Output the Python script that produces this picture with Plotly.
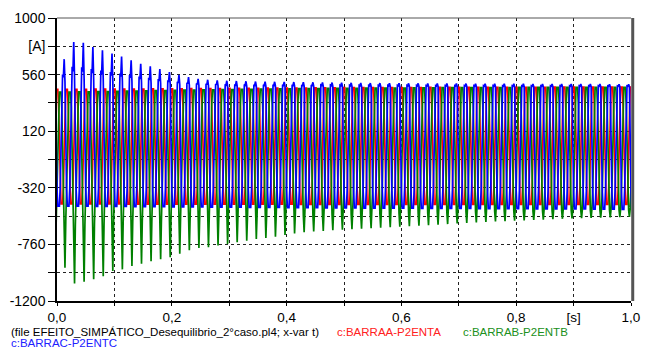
import plotly.graph_objects as go

# ---------------- data ----------------
FREQ = 60.0  # Hz
# one-cycle waveform template (12 samples, 30 deg apart), flat-topped shape
cycle_template = [0, 0.71, 1, 1, 1, 0.71, 0, -0.71, -1, -1, -1, -0.71]

# phase A (red) : per-cycle top / bottom [A]
red_top = [446, 446, 446, 446, 447, 447, 447, 448, 448, 448, 449, 449, 450, 450, 451, 451,
           452, 452, 453, 453, 454, 454, 455, 455, 456, 456, 456, 457, 457, 457, 458, 458,
           458, 458, 459, 459, 459, 459, 459, 460, 460, 460, 460, 460, 460, 461, 461, 461,
           461, 461, 461, 461, 462, 462, 462, 462, 462, 462, 462, 462, 462]
red_bot = [-446, -446, -446, -446, -446, -446, -446, -447, -447, -447, -447, -447, -447, -447, -447, -448,
           -448, -448, -448, -448, -448, -448, -448, -448, -448, -449, -449, -449, -449, -449, -449, -449,
           -449, -449, -449, -449, -449, -449, -450, -450, -450, -450, -450, -450, -450, -450, -450, -450,
           -450, -450, -450, -450, -450, -450, -450, -450, -450, -450, -450, -450, -450]

# phase B (green) : per-cycle top and negative inrush trough [A]
green_top = [423, 424, 425, 426, 427, 428, 430, 431, 432, 434, 435, 436, 438, 439, 440, 441,
             442, 443, 444, 445, 446, 447, 448, 449, 450, 451, 452, 452, 453, 453, 454, 454,
             455, 455, 456, 456, 456, 457, 457, 457, 458, 458, 458, 458, 459, 459, 459, 459,
             460, 460, 460, 460, 460, 460, 460, 460, 460, 460, 460, 460, 460]
green_trough = [-941, -1064, -1051, -1031, -1008, -967, -954, -928, -910, -890, -875, -859, -833,
                -805, -787, -782, -769, -756, -744, -731, -718, -710, -700, -687, -675, -665,
                -660, -655, -650, -646, -642, -638, -634, -630, -626, -622, -618, -614, -610,
                -606, -602, -598, -594, -590, -586, -582, -579, -576, -573, -570, -567, -564,
                -561, -558, -556, -554, -552, -550, -548, -546, -545]
green_base_bot = -462

# phase C (blue) : per-cycle positive inrush peak and bottom [A]
blue_peak = [600, 680, 813, 808, 775, 750, 723, 700, 672, 645, 625, 603, 580, 558, 540, 527,
             520, 515, 512, 510, 508, 506, 505, 504, 503, 502, 501, 500, 499, 498, 497, 496,
             495, 494, 494, 493, 493, 492, 492, 491, 491, 490, 490, 490, 489, 489, 489, 488,
             488, 488, 487, 487, 487, 487, 486, 486, 486, 486, 485, 485, 485]
blue_bot = [-462, -462, -463, -463, -464, -464, -465, -465, -466, -466, -467, -467, -468, -468, -469, -469,
            -470, -470, -471, -471, -472, -472, -473, -473, -474, -474, -475, -475, -476, -476, -477, -477,
            -478, -478, -478, -479, -479, -479, -480, -480, -480, -481, -481, -481, -482, -482, -482, -483,
            -483, -483, -484, -484, -484, -485, -485, -485, -486, -486, -486, -487, -487]
blue_base_top = 462

# phase angles at t = 0 [deg]
phase_red, phase_green, phase_blue = 90, -30, 210

x_tickvals = [0, 0.2, 0.4, 0.6, 0.8, 0.9, 1.0]
x_ticktext = ["0,0", "0,2", "0,4", "0,6", "0,8", "[s]", "1,0"]
y_tickvals = [-1200, -760, -320, 120, 560, 780, 1000]
y_ticktext = ["-1200", "-760", "-320", "120", "560", "[A]", "1000"]

footer_file = "(file EFEITO_SIMPÁTICO_Desequilibrio_2°caso.pl4; x-var t)"
name_a, name_b, name_c = "c:BARRAA-P2ENTA", "c:BARRAB-P2ENTB", "c:BARRAC-P2ENTC"


# ---------------- build sampled waveforms ----------------
def red_val(k, j):
    v = cycle_template[j]
    return v * red_top[k] if v >= 0 else -v * red_bot[k]


def green_val(k, j):
    v = cycle_template[j]
    if v >= 0:
        return v * green_top[k]
    tr = green_trough[k]
    b = green_base_bot
    if j == 8:
        return b + 0.35 * (tr - b)
    if j == 9:
        return tr
    if j == 10:
        return b + 0.25 * (tr - b)
    return -v * b


def blue_val(k, j):
    v = cycle_template[j]
    if v < 0:
        return -v * blue_bot[k]
    p = blue_peak[k]
    b = blue_base_top
    if j == 2:
        return b + 0.45 * (p - b)
    if j == 3:
        return b + 0.35 * (p - b)
    if j == 4:
        return p
    if j == 5:
        return b + 0.2 * (p - b)
    return v * b


# sample angle = 360*f*t + phase  ->  t = (angle - phase)/(360 f)
def build(phase_deg, fn):
    xs, ys = [], []
    for k in range(-1, 62):
        kk = min(max(k, 0), 60)
        for j in range(12):
            ang = 360 * k + 30 * j
            t = (ang - phase_deg) / (360 * FREQ)
            if -0.02 <= t <= 1.02:
                xs.append(t)
                ys.append(fn(kk, j))
    return xs, ys


xr, yr = build(phase_red, red_val)
xg, yg = build(phase_green, green_val)
xb, yb = build(phase_blue, blue_val)

fig = go.Figure()
fig.add_trace(go.Scatter(x=xr, y=yr, mode="lines", line=dict(color="#ff0000", width=1.7), name=name_a))
fig.add_trace(go.Scatter(x=xg, y=yg, mode="lines", line=dict(color="#008000", width=1.7), name=name_b))
fig.add_trace(go.Scatter(x=xb, y=yb, mode="lines", line=dict(color="#0000ff", width=1.7), name=name_c))

FONT = "Liberation Sans, Arial, sans-serif"
GRID = "#222222"

fig.update_layout(
    width=650, height=349,
    margin=dict(l=54, r=10, t=15, b=48),
    paper_bgcolor="white", plot_bgcolor="white",
    showlegend=False,
    font=dict(family=FONT, size=14, color="black"),
    xaxis=dict(
        range=[0, 1], tickvals=x_tickvals, ticktext=x_ticktext,
        showline=True, linecolor="black", linewidth=1.5,
        ticks="outside", ticklen=3, tickcolor="black", tickwidth=1,
        showgrid=True, gridcolor=GRID, griddash="dot", gridwidth=1,
        minor=dict(dtick=0.1, tick0=0, showgrid=True, gridcolor=GRID, griddash="dot",
                   gridwidth=1, ticks="outside", ticklen=3, tickcolor="black"),
        zeroline=False, tickfont=dict(size=13.5),
    ),
    yaxis=dict(
        range=[-1200, 1000], tickvals=y_tickvals, ticktext=y_ticktext,
        showline=True, linecolor="black", linewidth=1.5,
        ticks="outside", ticklen=7, tickcolor="black", tickwidth=1,
        showgrid=True, gridcolor=GRID, griddash="dot", gridwidth=1,
        minor=dict(dtick=220, tick0=-1200, showgrid=True, gridcolor=GRID, griddash="dot",
                   gridwidth=1, ticks="outside", ticklen=7, tickcolor="black"),
        zeroline=False, tickfont=dict(size=14),
    ),
    shapes=[
        dict(type="line", xref="paper", yref="paper", x0=0, x1=1, y0=1, y1=1,
             line=dict(color="#555555", width=1)),
        dict(type="line", xref="paper", yref="paper", x0=1.003, x1=1.003, y0=0, y1=1,
             line=dict(color="#555555", width=3)),
    ],
    annotations=[
        dict(text=footer_file, xref="paper", yref="paper", x=-0.0836, y=-0.108,
             xanchor="left", yanchor="middle", showarrow=False,
             font=dict(size=11.5, color="black", family=FONT)),
        dict(text=name_a, xref="paper", yref="paper", x=0.4846, y=-0.108,
             xanchor="left", yanchor="middle", showarrow=False,
             font=dict(size=11.5, color="#ff2020", family=FONT)),
        dict(text=name_b, xref="paper", yref="paper", x=0.703, y=-0.108,
             xanchor="left", yanchor="middle", showarrow=False,
             font=dict(size=11.5, color="#209020", family=FONT)),
        dict(text=name_c, xref="paper", yref="paper", x=-0.0836, y=-0.150,
             xanchor="left", yanchor="middle", showarrow=False,
             font=dict(size=11.5, color="#2020ff", family=FONT)),
    ],
)

fig.write_html("out.html")
